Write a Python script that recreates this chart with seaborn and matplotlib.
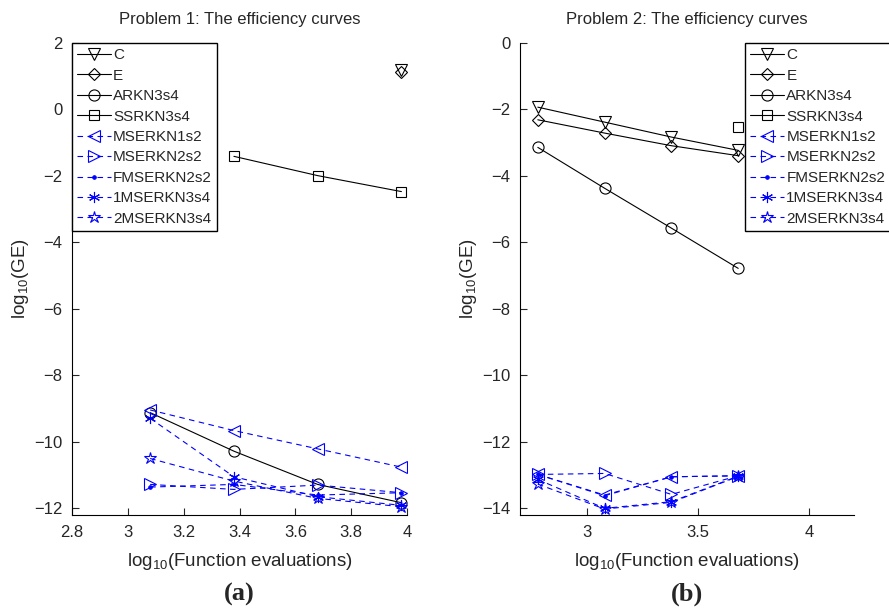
import numpy as np
import pandas as pd
import matplotlib
matplotlib.use("Agg")
import matplotlib.pyplot as plt
import seaborn as sns

nan = np.nan
# ---------------- data ----------------
series_names = ["C", "E", "ARKN3s4", "SSRKN3s4", "MSERKN1s2", "MSERKN2s2",
                "FMSERKN2s2", "1MSERKN3s4", "2MSERKN3s4"]

x_p1 = [3.08, 3.38, 3.68, 3.98]
C_p1 = [nan, nan, nan, 1.2]
E_p1 = [nan, nan, nan, 1.13]
ARKN3s4_p1 = [-9.12, -10.28, -11.28, -11.83]
SSRKN3s4_p1 = [nan, -1.41, -1.99, -2.47]
MSERKN1s2_p1 = [-9.04, -9.66, -10.21, -10.76]
MSERKN2s2_p1 = [-11.28, -11.43, -11.30, -11.53]
FMSERKN2s2_p1 = [-11.36, -11.28, -11.60, -11.53]
M1SERKN3s4_p1 = [-9.29, -11.05, -11.65, -11.91]
M2SERKN3s4_p1 = [-10.50, -11.18, -11.70, -11.95]

x_p2 = [2.78, 3.08, 3.38, 3.68]
C_p2 = [-1.93, -2.38, -2.83, -3.23]
E_p2 = [-2.31, -2.71, -3.09, -3.39]
ARKN3s4_p2 = [-3.14, -4.37, -5.57, -6.78]
SSRKN3s4_p2 = [nan, nan, nan, -2.54]
MSERKN1s2_p2 = [-12.98, -13.60, -13.05, -13.02]
MSERKN2s2_p2 = [-12.98, -12.95, -13.58, -13.02]
FMSERKN2s2_p2 = [-12.98, -13.62, -13.05, -13.02]
M1SERKN3s4_p2 = [-13.13, -14.00, -13.80, -13.03]
M2SERKN3s4_p2 = [-13.27, -14.02, -13.82, -13.04]

p1_values = [C_p1, E_p1, ARKN3s4_p1, SSRKN3s4_p1, MSERKN1s2_p1, MSERKN2s2_p1,
             FMSERKN2s2_p1, M1SERKN3s4_p1, M2SERKN3s4_p1]
p2_values = [C_p2, E_p2, ARKN3s4_p2, SSRKN3s4_p2, MSERKN1s2_p2, MSERKN2s2_p2,
             FMSERKN2s2_p2, M1SERKN3s4_p2, M2SERKN3s4_p2]

titles = ["Problem 1: The efficiency curves", "Problem 2: The efficiency curves"]
panel_tags = ["(a)", "(b)"]
xticks_p1 = [2.8, 3.0, 3.2, 3.4, 3.6, 3.8, 4.0]
xticklabels_p1 = ["2.8", "3", "3.2", "3.4", "3.6", "3.8", "4"]
yticks_p1 = [2, 0, -2, -4, -6, -8, -10, -12]
xticks_p2 = [3.0, 3.5, 4.0]
xticklabels_p2 = ["3", "3.5", "4"]
yticks_p2 = [0, -2, -4, -6, -8, -10, -12, -14]

# ---------------- style ----------------
sns.set_style("ticks")
plt.rcParams["font.family"] = ["Liberation Sans", "DejaVu Sans"]
plt.rcParams["mathtext.fontset"] = "custom"
plt.rcParams["mathtext.rm"] = "Liberation Sans"
plt.rcParams["mathtext.it"] = "Liberation Sans:italic"
plt.rcParams["mathtext.bf"] = "Liberation Sans:bold"
plt.rcParams["font.size"] = 11
plt.rcParams["xtick.direction"] = "in"
plt.rcParams["ytick.direction"] = "in"

styles = {
    "C": dict(color="black", ls="-", marker="v", ms=8),
    "E": dict(color="black", ls="-", marker="D", ms=6.5),
    "ARKN3s4": dict(color="black", ls="-", marker="o", ms=8),
    "SSRKN3s4": dict(color="black", ls="-", marker="s", ms=7),
    "MSERKN1s2": dict(color="blue", ls="--", marker="<", ms=8),
    "MSERKN2s2": dict(color="blue", ls="--", marker=">", ms=8),
    "FMSERKN2s2": dict(color="blue", ls="--", marker=".", ms=5),
    "1MSERKN3s4": dict(color="blue", ls="--", marker=(6, 2, 0), ms=8),
    "2MSERKN3s4": dict(color="blue", ls="--", marker="*", ms=9),
}

fig = plt.figure(figsize=(8.89, 6.08), dpi=100)
ax1 = fig.add_axes([72 / 889, 93 / 608, 335 / 889, 472 / 608])
ax2 = fig.add_axes([520 / 889, 93 / 608, 334 / 889, 472 / 608])

for ax, x, vals in [(ax1, x_p1, p1_values), (ax2, x_p2, p2_values)]:
    for name, v in zip(series_names, vals):
        df = pd.DataFrame({"x": x, "y": v}).dropna()
        st = styles[name]
        sns.lineplot(data=df, x="x", y="y", ax=ax, color=st["color"],
                     linewidth=0.8, marker=st["marker"],
                     markersize=st["ms"], markerfacecolor="none",
                     markeredgecolor=st["color"], markeredgewidth=0.8,
                     label=name, legend=False, estimator=None, sort=False)
    for line, name in zip(ax.get_lines(), series_names):
        if styles[name]["ls"] == "--":
            line.set_linestyle((0, (5, 4)))
        if name == "FMSERKN2s2":
            line.set_markerfacecolor("blue")

ax1.set_xlim(2.8, 4.0)
ax1.set_ylim(-12.2, 2.0)
ax1.set_xticks(xticks_p1)
ax1.set_xticklabels(xticklabels_p1)
ax1.set_yticks(yticks_p1)
ax2.set_xlim(2.7, 4.2)
ax2.set_ylim(-14.2, 0.0)
ax2.set_xticks(xticks_p2)
ax2.set_xticklabels(xticklabels_p2)
ax2.set_yticks(yticks_p2)

for ax, title, tag in [(ax1, titles[0], panel_tags[0]), (ax2, titles[1], panel_tags[1])]:
    sns.despine(ax=ax)
    ax.set_title(title, fontsize=12, pad=14)
    ax.set_xlabel("log$_{10}$(Function evaluations)", fontsize=13.5, labelpad=8)
    ax.set_ylabel("log$_{10}$(GE)", fontsize=13.5, labelpad=2)
    ax.tick_params(length=5, width=0.8, labelsize=12, pad=7)
    for sp in ("left", "bottom"):
        ax.spines[sp].set_linewidth(0.8)
        ax.spines[sp].set_color("black")
    pos = ax.get_position()
    fig.text((pos.x0 + pos.x1) / 2, 1 - 594 / 608, tag, ha="center", va="center",
             fontsize=19, fontweight="bold", family=["Liberation Serif", "DejaVu Serif"])

leg_kw = dict(loc="upper left", frameon=True, fancybox=False, framealpha=1,
              edgecolor="black", fontsize=11, handlelength=2.2, handletextpad=0.15,
              labelspacing=0.42, borderpad=0.35, borderaxespad=0)
l1 = ax1.legend(bbox_to_anchor=(0.0, 1.0), **leg_kw)
l2 = ax2.legend(bbox_to_anchor=(0.674, 1.0), **leg_kw)
for l in (l1, l2):
    l.get_frame().set_linewidth(1.0)
    l.set_zorder(10)

fig.savefig("out.png", dpi=100)
